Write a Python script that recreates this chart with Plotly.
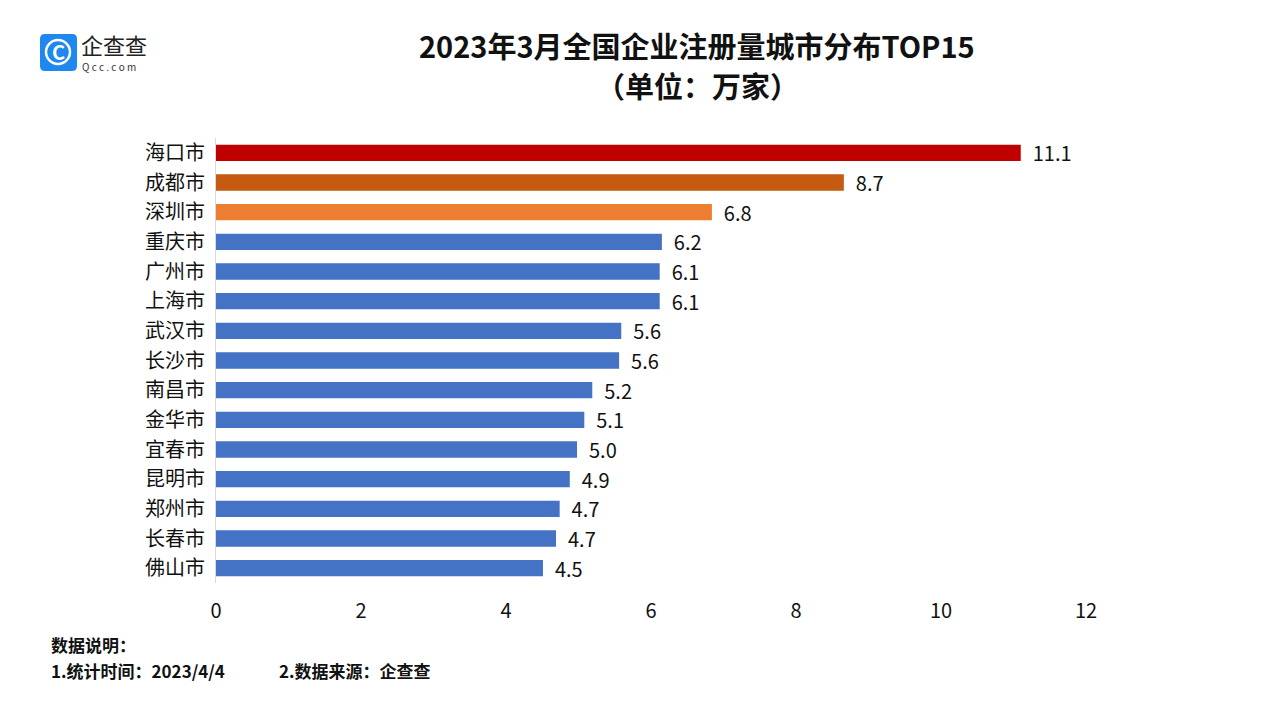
import plotly.graph_objects as go

cities = ["海口市", "成都市", "深圳市", "重庆市", "广州市", "上海市", "武汉市", "长沙市",
          "南昌市", "金华市", "宜春市", "昆明市", "郑州市", "长春市", "佛山市"]
values = [11.1, 8.66, 6.84, 6.15, 6.12, 6.12, 5.59, 5.56, 5.19, 5.08, 4.98, 4.88, 4.74, 4.69, 4.51]
labels = ["11.1", "8.7", "6.8", "6.2", "6.1", "6.1", "5.6", "5.6", "5.2", "5.1", "5.0", "4.9", "4.7", "4.7", "4.5"]
colors = ["#C00000", "#C55A11", "#ED7D31"] + ["#4472C4"] * 12
xticks = [0, 2, 4, 6, 8, 10, 12]

FONT = "Noto Sans CJK SC"

fig = go.Figure(go.Bar(
    x=values, y=cities, orientation="h",
    marker=dict(color=colors, line=dict(width=0)),
    text=["  " + t for t in labels], textposition="outside",
    textfont=dict(family=FONT, size=20, color="#111111"),
    constraintext="none",
    cliponaxis=False,
))

W, H = 1267, 713
L, R, T, B = 216, 181, 138, 130
pw = W - L - R

def px(x):
    return (x - L) / pw

def py(y):
    return 1 - (y - T) / (H - T - B)

def note(text, x, y, size, anchor="left", color="#111111"):
    return dict(text=text, xref="paper", yref="paper", x=px(x), y=py(y),
                xanchor=anchor, yanchor="middle", showarrow=False,
                font=dict(size=size, family=FONT, color=color))

fig.update_layout(
    width=W, height=H,
    margin=dict(l=L, r=R, t=T, b=B),
    paper_bgcolor="white", plot_bgcolor="white",
    bargap=0.45,
    showlegend=False,
    font=dict(family=FONT, color="#111111"),
    xaxis=dict(range=[0, 12], tickvals=xticks, showgrid=False, zeroline=False,
               showline=False, ticks="", tickfont=dict(size=20, color="#111111"),
               ticklabelstandoff=14),
    yaxis=dict(autorange="reversed", showgrid=False, zeroline=False,
               showline=True, linecolor="#D9D9D9", linewidth=1, ticks="",
               tickfont=dict(size=20, color="#111111"), ticklabelstandoff=6),
    annotations=[
        note("<b>2023年3月全国企业注册量城市分布TOP15</b>", 697, 45, 29, "center"),
        note("<b>（单位：万家）</b>", 697, 85, 29, "center"),
        note("<b>数据说明：</b>", 49, 644, 17),
        note("<b>1.统计时间：2023/4/4</b>", 49, 670, 17),
        note("<b>2.数据来源：企查查</b>", 277, 670, 17),
        note("<b>C</b>", 58, 52, 20, "center", "white"),
        note("企查查", 79, 44, 22, "left", "#222222"),
        note("Q c c . c o m", 80, 67, 10, "left", "#333333"),
    ],
    shapes=[
        dict(type="path", xref="paper", yref="paper",
             path=(f"M {px(45)},{py(34)} L {px(72)},{py(34)} Q {px(77)},{py(34)} {px(77)},{py(39)} "
                   f"L {px(77)},{py(66)} Q {px(77)},{py(71)} {px(72)},{py(71)} "
                   f"L {px(45)},{py(71)} Q {px(40)},{py(71)} {px(40)},{py(66)} "
                   f"L {px(40)},{py(39)} Q {px(40)},{py(34)} {px(45)},{py(34)} Z"),
             fillcolor="#1E88F0", line=dict(width=0)),
        dict(type="circle", xref="paper", yref="paper",
             x0=px(46), x1=px(70), y0=py(64), y1=py(40),
             line=dict(color="white", width=2.5)),
    ],
)

fig.write_html("out.html", config={"displayModeBar": False},
               post_script="document.body.style.margin='0';document.body.style.padding='0';")
